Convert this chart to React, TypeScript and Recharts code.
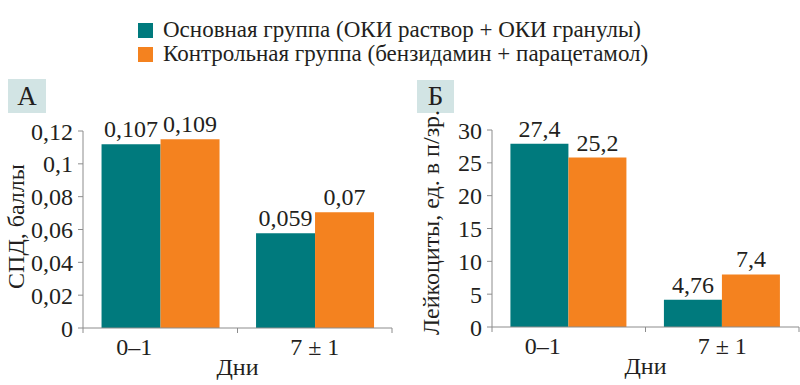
import { BarChart, Bar, XAxis, YAxis, LabelList } from 'recharts'

const TEAL = '#007a7d'
const ORANGE = '#f4821f'
const AXIS = '#8c8c8c'
const INK = '#231f20'
const FONT = 'Liberation Serif, DejaVu Serif, serif'
const FS = 24

const DAYS = ['0–1', '7 ± 1']
const SERIES_NAMES = [
  'Основная группа (ОКИ раствор + ОКИ гранулы)',
  'Контрольная группа (бензидамин + парацетамол)',
]

// bar heights as drawn in the picture, printed labels kept separately
const SPD_MAIN = [0.112, 0.0577]
const SPD_CONTROL = [0.115, 0.0705]
const SPD_MAIN_LABELS = ['0,107', '0,059']
const SPD_CONTROL_LABELS = ['0,109', '0,07']
const SPD_TICKS = [0, 0.02, 0.04, 0.06, 0.08, 0.1, 0.12]

const LEU_MAIN = [27.9, 4.16]
const LEU_CONTROL = [25.8, 8.0]
const LEU_MAIN_LABELS = ['27,4', '4,76']
const LEU_CONTROL_LABELS = ['25,2', '7,4']
const LEU_TICKS = [0, 5, 10, 15, 20, 25, 30]

function DayTick(props: any) {
  const { x, y, payload, index, visibleTicksCount, band } = props
  const half = band / 2
  const shift = index === 0 ? -26 : 0
  return (
    <g>
      <line x1={x - half} x2={x - half} y1={y} y2={y + 5} stroke={AXIS} />
      {index === visibleTicksCount - 1 && <line x1={x + half} x2={x + half} y1={y} y2={y + 5} stroke={AXIS} />}
      <text x={x + shift} y={y + 27} textAnchor="middle" fill={INK} style={{ fontSize: FS, fontFamily: FONT }}>
        {payload.value}
      </text>
    </g>
  )
}

interface PanelProps {
  left: number
  letter: string
  letterBox: { left: number; top: number; width: number; height: number }
  yLabel: string
  yLabelDx: number
  yLabelDy: number
  ticks: number[]
  main: number[]
  control: number[]
  mainLabels: string[]
  controlLabels: string[]
  margin: { top: number; right: number; left: number; bottom: number }
}

function Panel(p: PanelProps) {
  const data = DAYS.map((d, i) => ({
    day: d,
    main: p.main[i],
    control: p.control[i],
    mainLabel: p.mainLabels[i],
    controlLabel: p.controlLabels[i],
  }))
  const yWidth = 60
  const band = (400 - p.margin.left - p.margin.right - yWidth) / DAYS.length
  const fmt = (v: number) => String(v).replace('.', ',')
  const txt = { fill: INK, fontSize: FS, fontFamily: FONT, style: { fontFamily: FONT } }
  return (
    <div style={{ position: 'absolute', left: p.left, top: 0, width: 400, height: 385 }}>
      <div
        style={{
          position: 'absolute',
          left: p.letterBox.left,
          top: p.letterBox.top,
          width: p.letterBox.width,
          height: p.letterBox.height,
          background: '#d2e4e4',
          display: 'flex',
          alignItems: 'center',
          justifyContent: 'center',
          fontFamily: FONT,
          fontSize: 27,
          color: INK,
        }}
      >
        {p.letter}
      </div>
      <BarChart width={400} height={385} data={data} margin={p.margin} barCategoryGap="12%" barGap={0} style={{ fontFamily: FONT }}>
        <XAxis
          dataKey="day"
          height={50}
          stroke={AXIS}
          tickLine={false}
          tickSize={0}
          tickMargin={0}
          interval={0}
          tick={(t: any) => <DayTick {...t} band={band} />}
          label={{ value: 'Дни', position: 'insideBottom', offset: 3, ...txt }}
        />
        <YAxis
          width={yWidth}
          domain={[p.ticks[0], p.ticks[p.ticks.length - 1]]}
          ticks={p.ticks}
          tickFormatter={fmt}
          stroke={AXIS}
          tickSize={5}
          tickMargin={5}
          tick={txt}
          label={{ value: p.yLabel, angle: -90, position: 'center', dx: p.yLabelDx, dy: p.yLabelDy, ...txt }}
        />
        <Bar dataKey="main" fill={TEAL} isAnimationActive={false}>
          <LabelList dataKey="mainLabel" position="top" offset={7} {...txt} />
        </Bar>
        <Bar dataKey="control" fill={ORANGE} isAnimationActive={false}>
          <LabelList dataKey="controlLabel" position="top" offset={7} {...txt} />
        </Bar>
      </BarChart>
    </div>
  )
}

export default function App() {
  return (
    <div
      style={{
        position: 'absolute',
        left: 0,
        top: 0,
        width: 800,
        height: 385,
        background: '#fff',
        overflow: 'hidden',
        fontFamily: FONT,
      }}
    >
      {SERIES_NAMES.map((name, i) => (
        <div
          key={name}
          style={{
            position: 'absolute',
            left: 138,
            top: 18 + i * 24,
            height: 24,
            display: 'flex',
            alignItems: 'center',
            fontFamily: FONT,
            fontSize: 23,
            color: INK,
            whiteSpace: 'nowrap',
          }}
        >
          <span style={{ width: 15, height: 15, background: i === 0 ? TEAL : ORANGE, marginRight: 10, display: 'inline-block' }} />
          {name}
        </div>
      ))}
      <Panel
        left={0}
        letter="А"
        letterBox={{ left: 8, top: 79, width: 38, height: 34 }}
        yLabel="СПД, баллы"
        yLabelDx={-38}
        yLabelDy={-3}
        ticks={SPD_TICKS}
        main={SPD_MAIN}
        control={SPD_CONTROL}
        mainLabels={SPD_MAIN_LABELS}
        controlLabels={SPD_CONTROL_LABELS}
        margin={{ top: 131, right: 8, left: 23, bottom: 7 }}
      />
      <Panel
        left={400}
        letter="Б"
        letterBox={{ left: 17, top: 80, width: 37, height: 33 }}
        yLabel="Лейкоциты, ед. в п/зр."
        yLabelDx={-32}
        yLabelDy={-6}
        ticks={LEU_TICKS}
        main={LEU_MAIN}
        control={LEU_CONTROL}
        mainLabels={LEU_MAIN_LABELS}
        controlLabels={LEU_CONTROL_LABELS}
        margin={{ top: 130, right: 1, left: 32, bottom: 8 }}
      />
    </div>
  )
}
